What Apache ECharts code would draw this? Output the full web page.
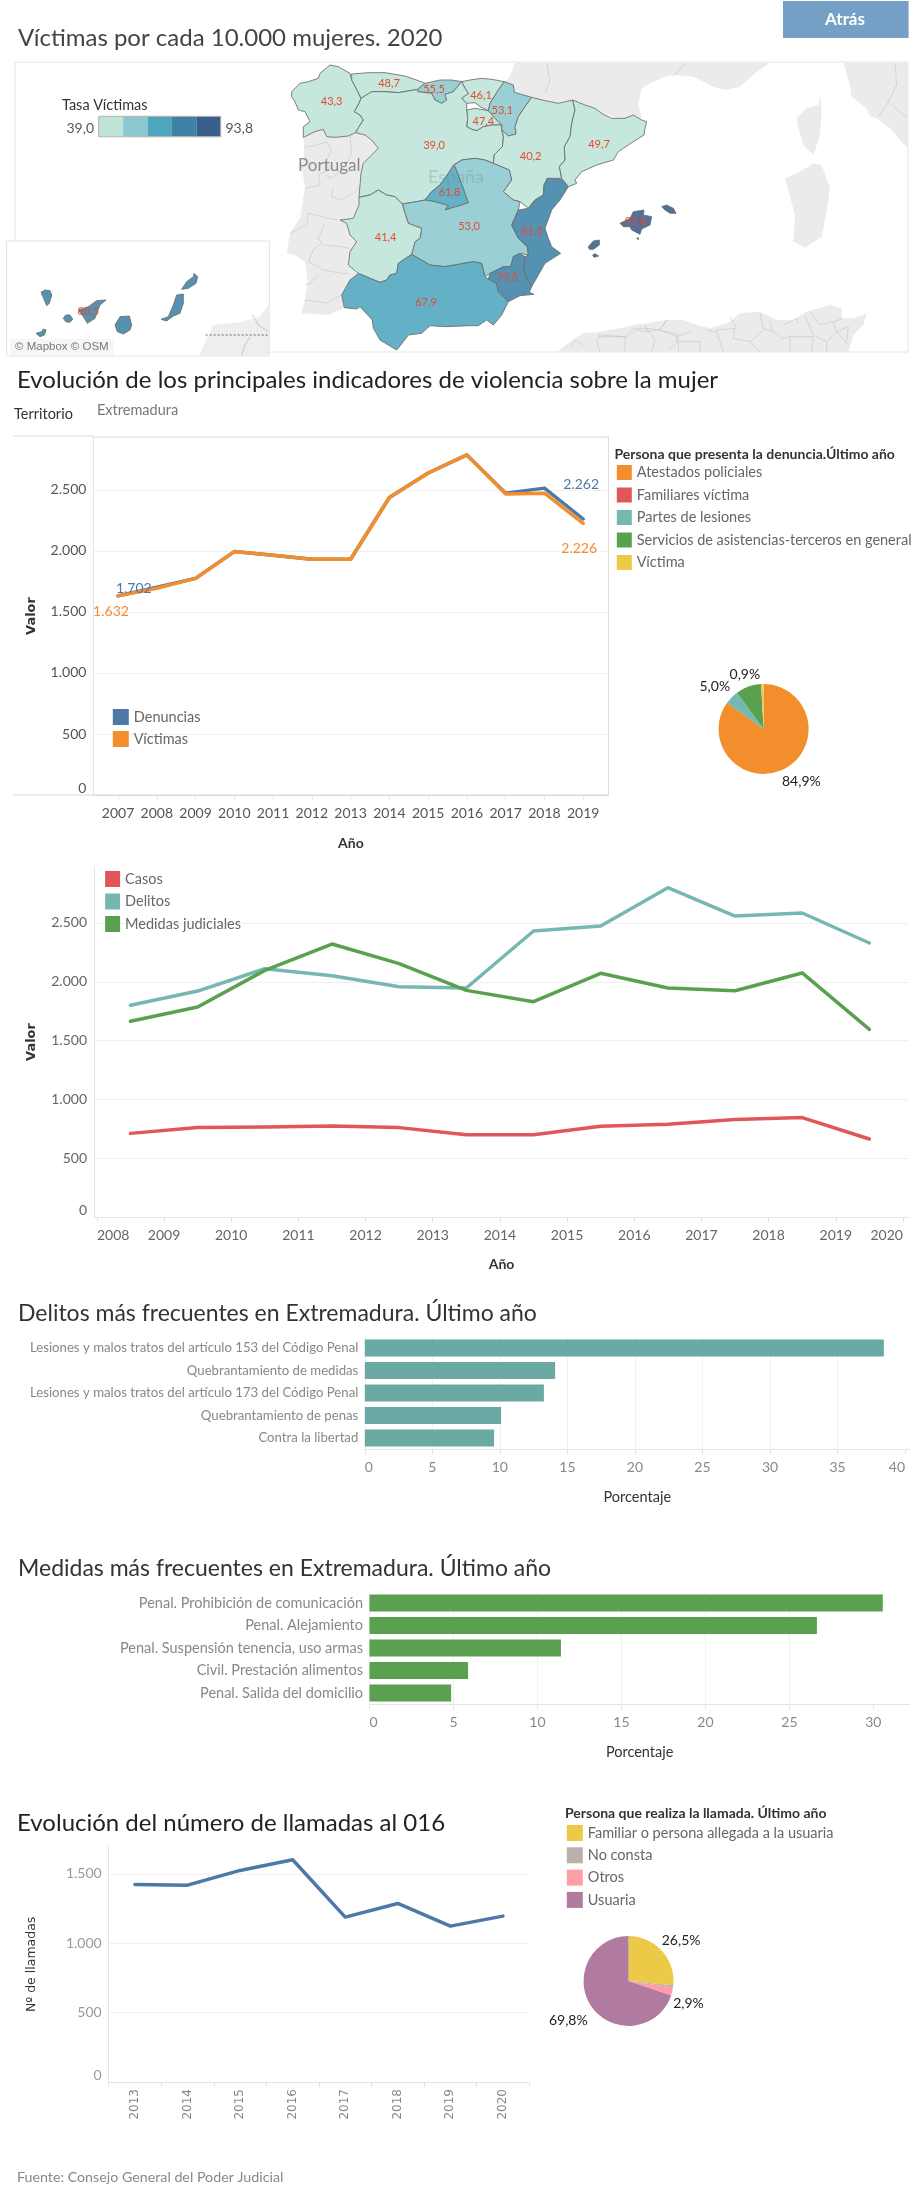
<!DOCTYPE html>
<html><head><meta charset="utf-8">
<style>html,body{margin:0;padding:0;background:#fff}#c{width:921px;height:2204px}</style>
<script src="https://cdn.jsdelivr.net/npm/echarts@6/dist/echarts.min.js"></script>
</head><body><div id="c"></div>
<script>
// ---------- Datos ----------
const tasaRegion = ['Galicia','Asturias','Cantabria','País Vasco','Navarra','La Rioja','Aragón','Cataluña','Castilla y León','Madrid','Castilla-La Mancha','Extremadura','Andalucía','Murcia','C. Valenciana','Baleares','Canarias'];
const tasaValor = [43.3,48.7,55.5,46.1,53.1,47.4,40.2,49.7,39.0,61.8,53.0,41.4,67.9,79.5,81.5,93.8,80.5];
const tasaColores = ['#bee4d8','#8cc8d0','#4ea5be','#3e82a5','#375f8c'];

const anios1 = [2007,2008,2009,2010,2011,2012,2013,2014,2015,2016,2017,2018,2019];
const denuncias = [1632,1702,1775,1995,1965,1932,1932,2438,2639,2787,2474,2515,2262];
const victimas = [1632,1695,1775,1995,1965,1932,1932,2438,2639,2787,2466,2474,2226];

const presentaNombres = ['Atestados policiales','Familiares víctima','Partes de lesiones','Servicios de asistencias-terceros en general','Víctima'];
const presentaValores = [84.9,0,5.0,9.2,0.9];

const fechas2 = [2008.5,2009.5,2010.5,2011.5,2012.5,2013.5,2014.5,2015.5,2016.5,2017.5,2018.5,2019.5];
const ticks2 = [2008,2009,2010,2011,2012,2013,2014,2015,2016,2017,2018,2019,2020];
const casos = [711,760,765,774,760,700,700,771,788,830,845,663];
const delitos = [1800,1921,2111,2052,1958,1947,2432,2474,2800,2559,2585,2330];
const medidas = [1664,1785,2097,2321,2154,1927,1831,2072,1947,1924,2075,1596];

const delitosTipos = ['Lesiones y malos tratos del artículo 153 del Código Penal','Quebrantamiento de medidas','Lesiones y malos tratos del artículo 173 del Código Penal','Quebrantamiento de penas','Contra la libertad'];
const delitosPct = [38.43,14.09,13.26,10.09,9.57];
const medidasTipos = ['Penal. Prohibición de comunicación','Penal. Alejamiento','Penal. Suspensión tenencia, uso armas','Civil. Prestación alimentos','Penal. Salida del domicilio'];
const medidasPct = [30.56,26.64,11.4,5.87,4.86];

const anios5 = ['2013','2014','2015','2016','2017','2018','2019','2020'];
const llamadas = [1423,1418,1524,1601,1188,1286,1123,1195];
const llamaNombres = ['Familiar o persona allegada a la usuaria','No consta','Otros','Usuaria'];
const llamaValores = [26.5,0.8,2.9,69.8];

// ---------- Geometría del mapa (trazado en unidades de mapa: 3 unidades = 1 px) ----------
const formas = {
 'Galicia':['20,95 45,70 70,65 100,55 105,40 135,15 160,20 195,40 200,60 215,88 228,115 222,130 208,155 225,165 235,180 222,200 212,218 190,228 150,232 125,230 115,208 90,215 55,232 55,200 75,185 60,155 40,150 30,125 20,110'],
 'Asturias':['200,42 250,38 300,38 360,48 400,62 420,70 398,88 340,98 300,95 260,95 228,115 215,88 200,60'],
 'Cantabria':['420,70 465,60 500,60 530,65 505,95 480,103 485,120 470,130 450,120 440,100 398,95 398,88'],
 'País Vasco':['530,65 555,60 590,55 620,58 658,65 640,90 615,130 610,152 585,140 570,128 545,130 530,115 550,100 540,85'],
 'Navarra':['658,65 685,75 688,97 740,112 720,140 700,170 690,200 693,222 670,228 650,210 650,195 630,175 610,152 615,130 640,90'],
 'La Rioja':['545,150 570,145 610,152 630,175 650,195 620,195 595,200 575,212 560,208 545,200 548,175'],
 'Aragón':['740,112 780,122 820,130 863,120 870,150 860,190 855,230 838,260 840,300 823,320 830,355 787,355 777,375 775,405 750,420 730,445 705,425 685,420 655,395 680,360 673,330 625,310 627,285 652,260 655,230 650,210 670,228 693,222 690,200 700,170 720,140'],
 'Cataluña':['863,120 900,135 930,145 950,160 980,175 1020,175 1045,165 1070,180 1085,185 1080,205 1077,225 1045,245 1000,275 985,300 935,315 890,335 870,360 875,370 850,380 830,355 823,320 840,300 838,260 855,230 860,190 870,150'],
 'Castilla y León':['228,115 260,95 300,95 340,98 398,88 398,95 440,100 450,120 470,130 485,120 480,103 505,95 530,65 540,85 550,100 530,115 545,130 545,150 548,175 545,200 560,208 575,212 595,200 620,195 650,195 650,210 655,230 652,260 627,285 625,310 600,300 570,295 530,300 505,315 490,340 465,375 440,395 420,420 395,425 352,432 330,410 305,405 280,390 255,405 222,412 228,340 235,310 280,265 260,240 240,225 212,218 222,200 235,180 225,165 208,155 222,130'],
 'Madrid':['508,315 520,345 535,385 550,428 530,435 495,445 480,450 490,437 450,425 420,420 440,395 465,375 490,340'],
 'Castilla-La Mancha':['508,315 530,300 570,295 600,300 625,310 673,330 680,360 655,395 685,420 705,425 700,450 680,495 700,535 727,560 730,585 705,580 685,590 677,620 655,620 615,640 600,650 590,610 565,605 520,613 480,620 435,615 380,583 390,545 405,535 410,505 370,490 360,460 352,432 395,425 420,420 450,425 490,437 480,450 495,445 530,435 550,428 535,385 520,345'],
 'Extremadura':['222,412 255,405 280,390 305,405 330,410 352,432 360,460 370,490 410,505 405,535 390,545 380,583 340,610 335,640 315,645 305,660 285,667 260,657 220,640 190,615 195,575 215,545 195,525 185,490 165,480 205,475 222,435'],
 'Andalucía':['380,583 435,615 480,620 520,613 565,605 590,610 600,650 610,657 635,670 640,695 670,725 650,765 625,795 605,780 580,797 555,797 480,800 435,797 410,820 370,825 355,845 335,870 285,840 265,805 262,780 225,740 215,747 178,743 170,705 195,660 220,640 260,657 285,667 305,660 315,645 335,640 340,610'],
 'Murcia':['677,620 685,590 705,580 720,590 715,625 725,655 740,680 733,697 747,703 705,707 670,725 640,695 635,670 610,657 615,640 655,620'],
 'C. Valenciana':['787,355 830,358 850,380 825,420 800,450 780,505 790,535 800,560 827,580 780,610 760,645 740,680 725,655 715,625 720,590 730,585 727,560 700,535 680,495 700,450 730,445 750,420 775,405 777,375'],
 'Baleares':['1005,490 1035,475 1045,455 1077,450 1075,465 1100,470 1095,495 1070,507 1065,523 1040,510 1035,500 1015,500','1130,440 1145,435 1165,445 1173,460 1155,460 1140,450','910,560 925,543 943,540 943,555 925,568 913,568','923,585 930,581 941,588 927,592','1055,535 1060,533 1060,539'],
 'Canarias':['-732,697 -720,690 -705,692 -700,705 -707,730 -715,737 -722,720','-747,820 -730,815 -725,807 -717,810 -722,825 -735,830','-665,775 -658,765 -645,765 -637,777 -645,787 -658,785','-620,750 -590,740 -565,722 -537,720 -555,735 -563,755 -570,775 -593,790 -605,770','-510,795 -495,770 -467,768 -460,795 -465,810 -485,822 -503,815','-372,778 -350,770 -335,735 -325,705 -305,702 -305,730 -315,760 -335,768 -355,783','-310,688 -295,665 -275,650 -273,640 -262,650 -267,670 -290,685']
};
const centros = {'Galicia':[140,125],'Asturias':[312,71],'Cantabria':[447,87],'País Vasco':[588,107],'Navarra':[652,150],'La Rioja':[595,185],'Aragón':[737,288],'Cataluña':[942,254],'Castilla y León':[447,257],'Madrid':[494,398],'Castilla-La Mancha':[552,500],'Extremadura':[302,531],'Andalucía':[423,728],'Murcia':[667,653],'C. Valenciana':[741,515],'Baleares':[1052,485],'Canarias':[-590,755]};
const tierras = {
 'marco':'-810,6 1869,6 1869,876 -810,876',
 'Portugal':'55,232 90,215 115,208 125,230 190,228 212,218 240,225 260,240 280,265 235,310 228,340 222,412 222,435 205,475 165,480 185,490 195,525 215,545 195,575 190,615 215,640 195,660 170,705 178,743 130,765 50,760 60,715 68,665 60,605 30,585 5,580 15,520 45,475 52,435 60,380 50,320 58,280',
 'Francia':'690,8 675,50 655,70 700,110 800,130 860,125 950,160 1020,178 1070,175 1060,135 1070,85 1095,70 1140,50 1170,45 1225,50 1285,80 1320,90 1365,80 1415,35 1455,8',
 'Italia':'1675,8 1695,75 1700,110 1745,145 1755,170 1775,175 1815,205 1868,265 1868,8',
 'Córcega':'1605,105 1610,155 1605,225 1585,285 1555,255 1540,205 1535,175 1565,145 1600,135',
 'Cerdeña':'1585,310 1610,315 1635,385 1625,455 1610,530 1560,563 1525,545 1530,465 1500,355 1545,335',
 'África':'817,875 855,845 895,820 945,815 1005,805 1045,795 1085,790 1145,780 1195,780 1235,795 1275,805 1335,785 1365,760 1425,755 1475,780 1525,780 1565,755 1635,735 1670,745 1670,775 1705,775 1745,760 1735,795 1705,825 1690,875',
 'recuadro':'-835,543 -47,543 -47,888 -835,888',
 'África insular':'-258,887 -215,795 -135,787 -75,770 -48,733 -48,887'
};
const lineas = ['60,262 95,255 125,245 140,270 125,300 130,330 100,345 105,375 60,385','195,225 200,280 180,320 140,355 120,345','145,385 140,410 170,420 205,400 225,380',
 '160,480 130,475 90,465 70,460 65,495 45,505 15,520','120,490 100,535 115,555 165,560 195,565','110,550 85,570 70,605 100,620 115,630 170,640 190,640','100,645 75,670 60,675','60,720 100,725 125,730 170,705',
 '785,10 795,60 780,100','1200,10 1180,35 1165,47','1830,10 1835,75 1805,135 1780,170','1820,135 1868,175',
 '945,825 1020,830 1020,875','1020,835 1055,810 1085,815 1080,795','1080,815 1125,810 1145,780','1125,810 1180,825 1180,875','1180,845 1245,845 1245,875','1265,810 1295,815 1315,875','1295,810 1350,805 1345,835 1395,845 1425,875','1335,770 1355,805','1425,760 1435,805 1465,815 1455,785','1395,845 1435,810','1465,815 1490,835 1515,830 1515,875','1495,795 1535,775 1540,790','1515,830 1585,830 1580,875','1560,765 1585,825 1625,845 1625,875','1575,755 1605,795 1645,785 1675,775','1645,785 1655,815 1690,800 1685,845','1625,845 1655,815 1690,855',
 '855,865 870,840 895,855','945,820 935,845 945,875','940,830 1020,830','1020,830 1045,805 1085,805 1110,840 1100,875','1085,805 1125,810 1145,780','1125,810 1175,830 1175,850 1150,870','1175,830 1215,815'];
const lineasInsular = ['-98,763 -80,795 -50,815','-105,830 -120,855 -130,887'];
const guiones = ['-238,825 -47,825'];

// ---------- Utilidades ----------
const FONT = 'Lato';
const ring = s => s.trim().split(/\s+/).map(p => p.split(',').map(Number));
const miles = v => String(Math.round(v)).replace(/\B(?=(\d{3})+$)/g, '.');
const coma = v => v.toFixed(1).replace('.', ',');
const feature = (name, geometry, cp) => ({type:'Feature', properties: cp ? {name, cp} : {name}, geometry});
echarts.registerMap('espana', {type:'FeatureCollection', features: tasaRegion.map(n => feature(n,
  {type:'MultiPolygon', coordinates: formas[n].map(s => [ring(s)])}, centros[n]))});
echarts.registerMap('fondo', {type:'FeatureCollection', features: [
  ...['marco','Portugal','Francia','Italia','Córcega','Cerdeña','África'].map(n => feature(n, {type:'Polygon', coordinates:[ring(tierras[n])]})),
  feature('lineas', {type:'MultiLineString', coordinates: lineas.map(ring)}),
  feature('recuadro', {type:'Polygon', coordinates:[ring(tierras['recuadro'])]}),
  feature('África insular', {type:'Polygon', coordinates:[ring(tierras['África insular'])]}),
  feature('lineas insular', {type:'MultiLineString', coordinates: lineasInsular.map(ring)}),
  feature('guiones', {type:'MultiLineString', coordinates: guiones.map(ring)})
]});
const identidad = {project: p => p, unproject: p => p};
const encaje = {projection: identidad, boundingCoords: [[-855,-180],[1908,6432]], left:0, top:0, width:921, height:2204, roam:false, silent:true};

const texto = (text, left, top, size, color, weight) => ({text, left, top, padding:0, textStyle:{fontFamily:FONT, fontSize:size, color, fontWeight:weight||'normal'}});
const GRIS = '#f0f0f0', EJE = '#e4e4e4';
const lineaSerie = (name, color, data, x, y) => ({type:'line', name, xAxisIndex:x, yAxisIndex:y, data, symbol:'circle', symbolSize:0, showSymbol:true, showAllSymbol:true,
  lineStyle:{color, width:3.5, cap:'round', join:'round'}, itemStyle:{color}, emphasis:{disabled:true}, silent:true, z:3});
const etiqueta = (color, dx, dy) => ({show:true, position:'inside', offset:[dx,dy], formatter: p => miles(p.value[1]), color, fontFamily:FONT, fontSize:14});
const conEtiquetas = (xs, ys, color, marcas) => xs.map((x,i) => marcas[i] ? {value:[x,ys[i]], label:etiqueta(color, marcas[i][0], marcas[i][1])} : {value:[x,ys[i]]});
const serieTarta = (name, nombres, valores, colores, center, visibles, ajustes) => ({type:'pie', name, radius:45, center, startAngle:90, clockwise:true, silent:true, minAngle:0,
  data: nombres.map((n,i) => ({name:n, value:valores[i], itemStyle:{color:colores[i]}, label:{show:visibles[i]}, labelLine:{show:false}})),
  label:{position:'outside', formatter: p => coma(p.value)+'%', color:'#222', fontFamily:FONT, fontSize:14},
  labelLine:{show:false, length:4, length2:2},
  labelLayout: p => ajustes[p.dataIndex] ? {dx:ajustes[p.dataIndex][0], dy:ajustes[p.dataIndex][1]} : {},
  emphasis:{disabled:true}});
const leyenda = (data, left, top, w, h, gap, color) => ({data, left, top, orient:'vertical', padding:0, icon:'rect', itemWidth:w, itemHeight:h, itemGap:gap, selectedMode:false, silent:true, textStyle:{fontFamily:FONT, fontSize:14.5, color:color||'#666'}});
const nombreEje = {fontFamily:'DejaVu Sans', fontSize:13, fontWeight:'bold', color:'#333'};
const nombreX = {fontFamily:FONT, fontSize:14, fontWeight:'bold', color:'#333'};
const ejeValorY = (gridIndex, max, name, gap, labelColor) => ({type:'value', gridIndex, min:0, max, interval:500, name, nameLocation:'middle', nameGap:gap, nameTextStyle:nombreEje,
  axisLine:{show:true, lineStyle:{color:EJE}}, axisTick:{show:false},
  axisLabel:{formatter:miles, color:labelColor, fontFamily:FONT, fontSize:14, margin:7, showMaxLabel:false, verticalAlignMinLabel:'bottom'},
  splitLine:{show:true, showMaxLine:false, showMinLine:false, lineStyle:{color:GRIS, width:1}}});
const ejeBarra = (gridIndex, max, valores) => ({type:'value', gridIndex, min:0, max, interval:5, name:'Porcentaje', nameLocation:'middle', nameGap:41, nameTextStyle:{fontFamily:FONT, fontSize:14.5, color:'#333'},
  axisLine:{show:true, lineStyle:{color:EJE}}, axisTick:{show:true, length:5, lineStyle:{color:EJE}, customValues:valores},
  axisLabel:{customValues:valores, color:'#888', fontFamily:FONT, fontSize:14, margin:11, alignMinLabel:'left', alignMaxLabel:valores.length===9?'right':'center'},
  splitLine:{show:true, showMaxLine:false, lineStyle:{color:GRIS}}});
const ejeCat = (gridIndex, data, size) => ({type:'category', gridIndex, data, inverse:true, axisLine:{show:false}, axisTick:{show:false},
  axisLabel:{color:'#888', fontFamily:FONT, fontSize:size, margin:6.5}});

const option = {
 animation:false,
 backgroundColor:'#fff',
 title:[
  texto('Víctimas por cada 10.000 mujeres. 2020',18,26,24,'#444'),
  texto('Evolución de los principales indicadores de violencia sobre la mujer',17,368,24,'#222'),
  texto('Territorio',14,407,14.5,'#333'),
  texto('Extremadura',97,403,14.5,'#777'),
  texto('Tasa Víctimas',62,98,14.5,'#333'),
  texto(coma(Math.min(...tasaValor)),66.5,121,14,'#555'),
  texto(coma(Math.max(...tasaValor)),225.5,121,14,'#555'),
  texto('Portugal',298,157,17,'#8a8a8a'),
  texto('España',428,168,18,'rgba(110,140,140,0.32)'),
  texto('Persona que presenta la denuncia.Último año',614.4,447,14,'#333','bold'),
  texto('Delitos más frecuentes en Extremadura. Último año',18,1302,23,'#333'),
  texto('Medidas más frecuentes en Extremadura. Último año',18,1557,23,'#333'),
  texto('Evolución del número de llamadas al 016',17,1811,24,'#222'),
  texto('Persona que realiza la llamada. Último año',565,1806,14,'#333','bold'),
  texto('Fuente: Consejo General del Poder Judicial',17,2170,14.25,'#888'),
  {text:'© Mapbox © OSM', left:10, top:339, padding:[2,5], backgroundColor:'#f6f6f6', textStyle:{fontFamily:'Liberation Sans', fontSize:11.5, color:'#777', fontWeight:'normal'}}
 ],
 graphic:[
  {type:'rect', shape:{x:783,y:1,width:125.6,height:37}, style:{fill:'#769fc6'}, silent:true},
  {type:'text', x:845, y:19.5, style:{text:'Atrás', fill:'#fff', font:'bold 17px Lato', align:'center', verticalAlign:'middle'}, silent:true},
  {type:'line', shape:{x1:13,y1:436,x2:93,y2:436}, style:{stroke:'#d9d9d9',lineWidth:1}, silent:true},
  {type:'line', shape:{x1:13,y1:795,x2:93,y2:795}, style:{stroke:'#d9d9d9',lineWidth:1}, silent:true},
  {type:'rect', shape:{x:98.7,y:116.3,width:122,height:20.5}, style:{fill:'none',stroke:'#b5b0a5',lineWidth:1}, silent:true, z:20}
 ],
 geo:{map:'fondo', ...encaje, z:0, label:{show:false}, emphasis:{disabled:true}, select:{disabled:true},
  itemStyle:{areaColor:'#ebebeb', borderWidth:0},
  regions:[
   {name:'marco', itemStyle:{areaColor:'#fff', borderColor:'#e4e4e4', borderWidth:1}},
   {name:'lineas', itemStyle:{areaColor:'rgba(0,0,0,0)', borderColor:'#c4c4c4', borderWidth:0.6}},
   {name:'recuadro', itemStyle:{areaColor:'#fff', borderColor:'#e4e4e4', borderWidth:1}},
   {name:'África insular', itemStyle:{areaColor:'#eeeeee'}},
   {name:'lineas insular', itemStyle:{areaColor:'rgba(0,0,0,0)', borderColor:'#b5b5b5', borderWidth:0.7}},
   {name:'guiones', itemStyle:{areaColor:'rgba(0,0,0,0)', borderColor:'#666', borderWidth:1, borderType:[2,2]}}
  ]},
 visualMap:{type:'piecewise', seriesIndex:0, orient:'horizontal', left:98.7, top:116.5, itemWidth:24.4, itemHeight:20, itemGap:0, showLabel:false, hoverLink:false, selectedMode:false,
  itemSymbol:'rect', padding:0,
  pieces:[{min:39,max:49.96,color:tasaColores[0]},{min:49.96,max:60.92,color:tasaColores[1]},{min:60.92,max:71.88,color:tasaColores[2]},{min:71.88,max:82.84,color:tasaColores[3]},{min:82.84,max:93.81,color:tasaColores[4]}]},
 legend:[
  leyenda(['Denuncias','Víctimas'],112.8,709,16,16,6),
  leyenda(presentaNombres,616.8,465,15,15,7.5),
  leyenda(['Casos','Delitos','Medidas judiciales'],105.1,871,15,16,6.5),
  leyenda(llamaNombres,566.8,1825,16,16,6.3)
 ],
 grid:[
  {left:93.4, top:437, width:515, height:358, show:true, borderColor:'#d9d9d9', borderWidth:1, backgroundColor:'transparent'},
  {left:94, top:867, width:815, height:350},
  {left:364.8, top:1336.7, width:545, height:112.6},
  {left:369.5, top:1591.7, width:540.3, height:112.6},
  {left:108.7, top:1846.7, width:420.5, height:235.3}
 ],
 xAxis:[
  {type:'value', gridIndex:0, min:2006.365, max:2019.65, name:'Año', nameLocation:'middle', nameGap:41, nameTextStyle:nombreX,
   axisLine:{show:true,lineStyle:{color:'#d9d9d9'}}, axisTick:{show:true, length:5, lineStyle:{color:EJE}, customValues:anios1},
   axisLabel:{customValues:anios1, formatter:v=>String(v), color:'#555', fontFamily:FONT, fontSize:14, margin:11}, splitLine:{show:false}},
  {type:'value', gridIndex:1, min:2007.957, max:2020.09, name:'Año', nameLocation:'middle', nameGap:40, nameTextStyle:nombreX,
   axisLine:{show:true,lineStyle:{color:EJE}}, axisTick:{show:true, length:5, lineStyle:{color:EJE}, customValues:ticks2},
   axisLabel:{customValues:ticks2, formatter:v=>String(v), color:'#666', fontFamily:FONT, fontSize:14, margin:11, alignMinLabel:'left', alignMaxLabel:'right'}, splitLine:{show:false}},
  ejeBarra(2,40.35,[0,5,10,15,20,25,30,35,40]),
  ejeBarra(3,32.17,[0,5,10,15,20,25,30]),
  {type:'category', gridIndex:4, data:anios5, axisLine:{show:true,lineStyle:{color:EJE}}, axisTick:{show:true,length:5,lineStyle:{color:EJE}},
   axisLabel:{rotate:90, color:'#888', fontFamily:'DejaVu Sans', fontSize:12, margin:7}}
 ],
 yAxis:[
  ejeValorY(0,2934,'Valor',55,'#555'),
  ejeValorY(1,2976,'Valor',55.5,'#666'),
  ejeCat(2,delitosTipos,13.2),
  ejeCat(3,medidasTipos,14.5),
  {...ejeValorY(4,1695,'Nº de llamadas',70,'#999'), nameTextStyle:{...nombreEje, fontSize:12.5, fontWeight:'normal', color:'#333'}}
 ],
 series:[
  {type:'map', map:'espana', ...encaje, z:2, showLegendSymbol:false, data:tasaRegion.map((n,i)=>({name:n, value:tasaValor[i]})),
   label:{show:true, formatter:p=>coma(p.value), color:'#e8492e', fontFamily:FONT, fontSize:11},
   itemStyle:{borderColor:'#6f6f6f', borderWidth:1, opacity:0.88}, emphasis:{disabled:true}, select:{disabled:true}, selectedMode:false},
  lineaSerie('Denuncias','#4e79a7',conEtiquetas(anios1,denuncias,'#4e79a7',{1:[-23,1],12:[-2,-35]}),0,0),
  lineaSerie('Víctimas','#f28e2b',conEtiquetas(anios1,victimas,'#f28e2b',{0:[-7,16],12:[-4,25]}),0,0),
  serieTarta('Presenta',presentaNombres,presentaValores,['#f28e2b','#e15759','#76b7b2','#59a14f','#edc948'],[763.6,729],[true,false,true,false,true],{0:[-11,9],2:[5,-10],4:[5,-6]}),
  lineaSerie('Casos','#e15759',fechas2.map((x,i)=>[x,casos[i]]),1,1),
  lineaSerie('Delitos','#76b7b2',fechas2.map((x,i)=>[x,delitos[i]]),1,1),
  lineaSerie('Medidas judiciales','#59a14f',fechas2.map((x,i)=>[x,medidas[i]]),1,1),
  {type:'bar', xAxisIndex:2, yAxisIndex:2, data:delitosPct, barWidth:17, itemStyle:{color:'#6ba9a4'}, silent:true, z:3},
  {type:'bar', xAxisIndex:3, yAxisIndex:3, data:medidasPct, barWidth:17, itemStyle:{color:'#59a14f'}, silent:true, z:3},
  lineaSerie('Llamadas','#4e79a7',anios5.map((x,i)=>[i,llamadas[i]]),4,4),
  serieTarta('Llamada',llamaNombres,llamaValores,['#edc948','#bab0ac','#ff9da7','#b07aa1'],[628.5,1981],[true,false,true,true],{0:[-10,-8],2:[-10,11],3:[6,11]})
 ]
};
echarts.init(document.getElementById('c'),null,{renderer:'canvas'}).setOption(option);
</script></body></html>
